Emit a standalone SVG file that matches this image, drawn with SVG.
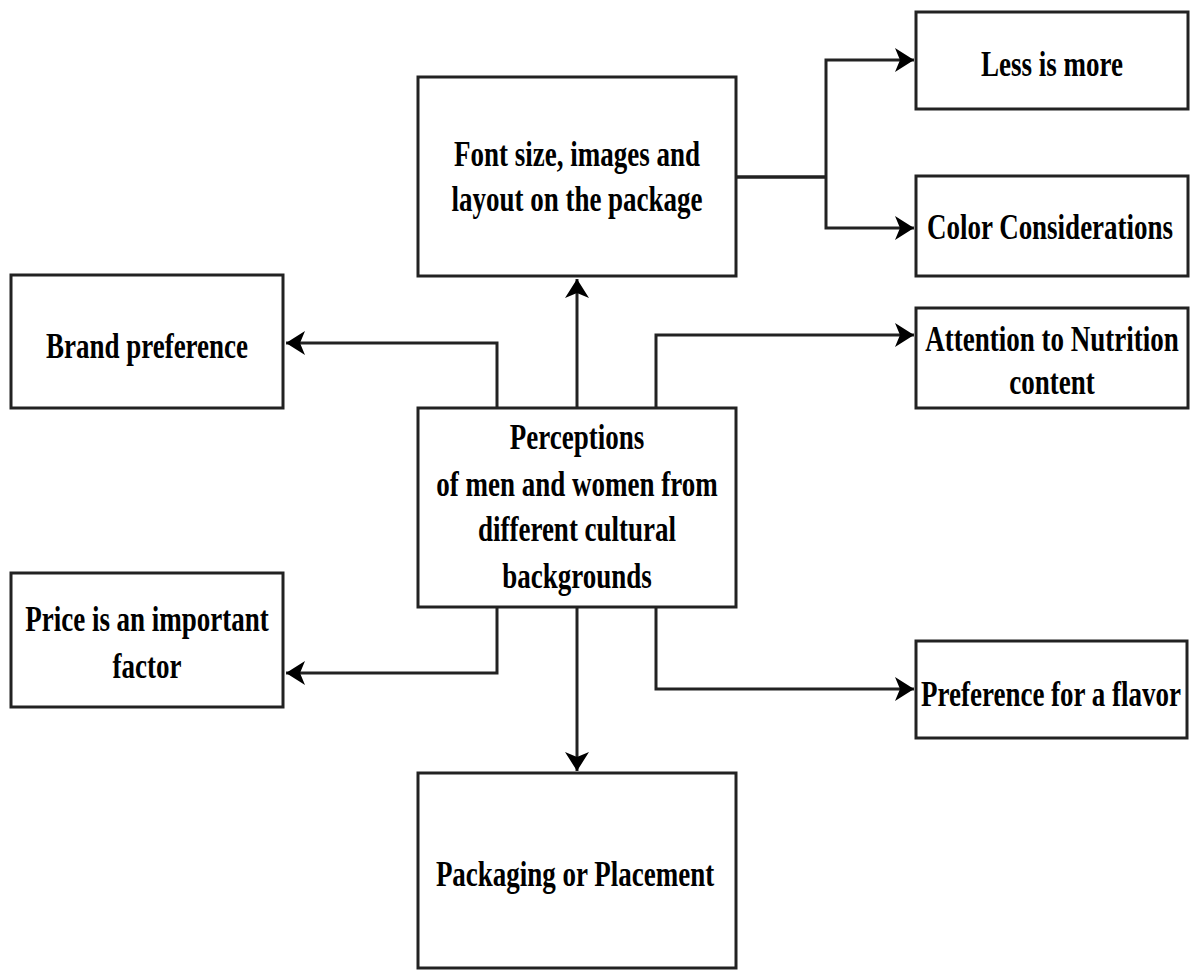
<svg xmlns="http://www.w3.org/2000/svg" width="1198" height="971" viewBox="0 0 1198 971">
<style>
.box{fill:#fff;stroke:#222;stroke-width:3}
.t{font-family:"Liberation Serif","Times New Roman",serif;font-weight:bold;font-size:36px;text-anchor:middle;fill:#000}
.c{fill:none;stroke:#222;stroke-width:3}
</style>
<defs>
<marker id="ah" markerUnits="userSpaceOnUse" viewBox="-22 -13 24 26" refX="0" refY="0" markerWidth="24" markerHeight="26" orient="auto">
<path d="M0,0 L-19,-12 L-14,0 L-19,12 Z" fill="#000"/>
</marker>
</defs>
<rect width="1198" height="971" fill="#fff"/>
<g id="connectors">
<path class="c" d="M577,408 V279" marker-end="url(#ah)"/>
<path class="c" d="M497,408 V343 H286" marker-end="url(#ah)"/>
<path class="c" d="M656,408 V335 H914" marker-end="url(#ah)"/>
<path class="c" d="M736,177 H826" style="stroke-width:3.5"/>
<path class="c" d="M826,177 V60 H914" marker-end="url(#ah)"/>
<path class="c" d="M826,177 V228 H914" marker-end="url(#ah)"/>
<path class="c" d="M497,607 V673 H286" marker-end="url(#ah)"/>
<path class="c" d="M656,607 V689 H914" marker-end="url(#ah)"/>
<path class="c" d="M577,607 V771" marker-end="url(#ah)"/>
</g>
<g id="font-size">
<rect class="box" x="418" y="77" width="318" height="199"/>
<text class="t" transform="translate(577,0) scale(0.75,1)" y="166">Font size, images and</text>
<text class="t" transform="translate(577,0) scale(0.75,1)" y="211">layout on the package</text>
</g>
<g id="less-is-more">
<rect class="box" x="916" y="12" width="272" height="97"/>
<text class="t" transform="translate(1052,0) scale(0.75,1)" y="76">Less is more</text>
</g>
<g id="color">
<rect class="box" x="916" y="176" width="272" height="100"/>
<text class="t" transform="translate(1050,0) scale(0.75,1)" y="239">Color Considerations</text>
</g>
<g id="attention">
<rect class="box" x="916" y="308" width="272" height="100"/>
<text class="t" transform="translate(1052,0) scale(0.75,1)" y="351">Attention to Nutrition</text>
<text class="t" transform="translate(1052,0) scale(0.75,1)" y="394">content</text>
</g>
<g id="brand">
<rect class="box" x="11" y="275" width="272" height="133"/>
<text class="t" transform="translate(147,0) scale(0.75,1)" y="358">Brand preference</text>
</g>
<g id="perceptions">
<rect class="box" x="418" y="408" width="318" height="199"/>
<text class="t" transform="translate(577,0) scale(0.75,1)" y="449">Perceptions</text>
<text class="t" transform="translate(577,0) scale(0.75,1)" y="496">of men and women from</text>
<text class="t" transform="translate(577,0) scale(0.75,1)" y="541">different cultural</text>
<text class="t" transform="translate(577,0) scale(0.75,1)" y="588">backgrounds</text>
</g>
<g id="price">
<rect class="box" x="11" y="573" width="272" height="134"/>
<text class="t" transform="translate(147,0) scale(0.75,1)" y="631">Price is an important</text>
<text class="t" transform="translate(147,0) scale(0.75,1)" y="678">factor</text>
</g>
<g id="flavor">
<rect class="box" x="916" y="641" width="271" height="97"/>
<text class="t" transform="translate(1051,0) scale(0.75,1)" y="706">Preference for a flavor</text>
</g>
<g id="packaging">
<rect class="box" x="418" y="773" width="318" height="195"/>
<text class="t" transform="translate(575,0) scale(0.75,1)" y="886">Packaging or Placement</text>
</g>
</svg>
